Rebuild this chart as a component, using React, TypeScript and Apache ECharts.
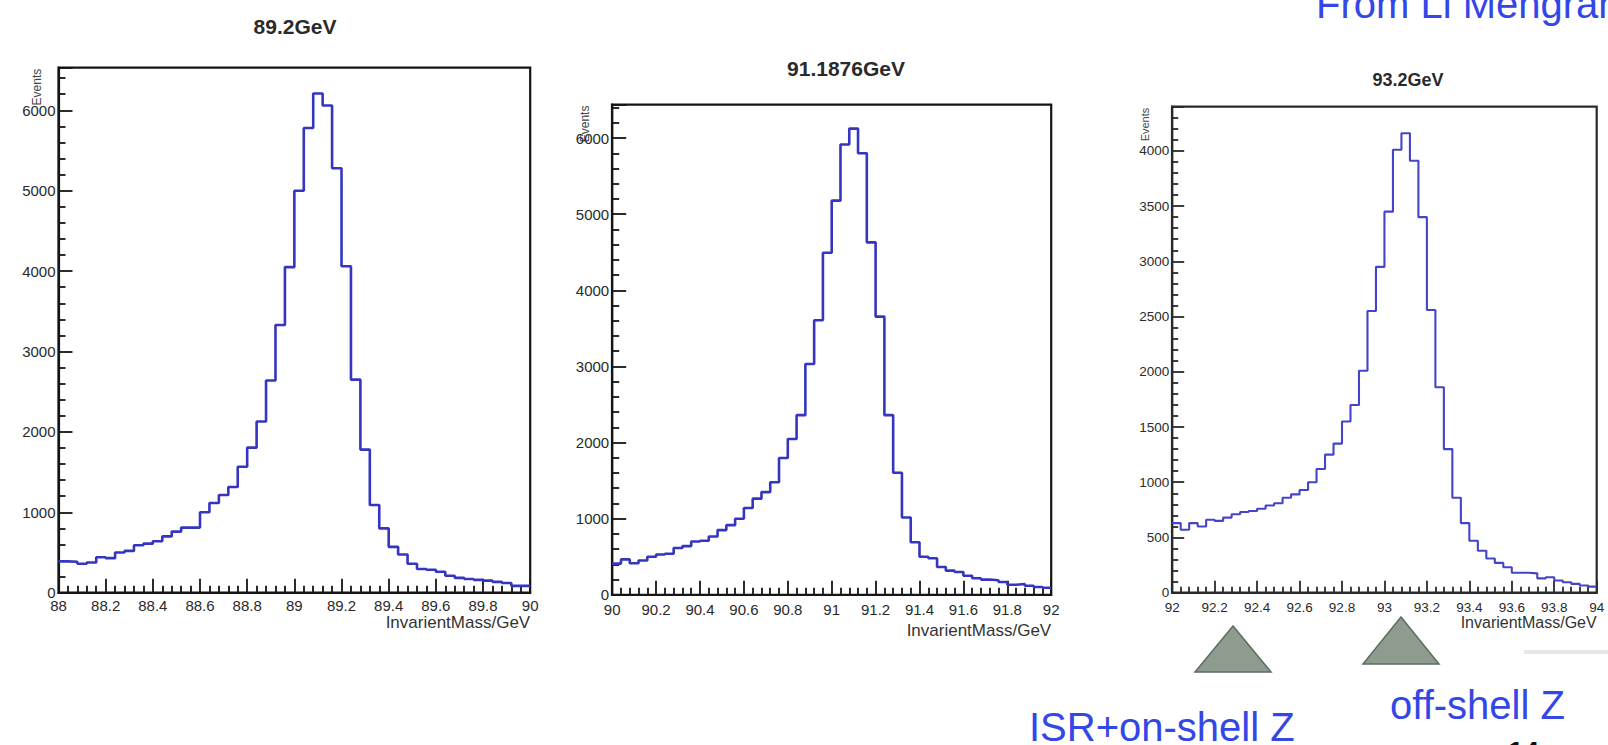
import React, { useEffect, useRef } from 'react';
import * as echarts from 'echarts';

// ---------------- data ----------------
const BIN_WIDTH = 0.04;
const starts = [88, 90, 92];
const titles = ['89.2GeV', '91.1876GeV', '93.2GeV'];
const xTitle = 'InvarientMass/GeV';
const yTitle = 'Events';
const yMax = [6530, 6440, 4400];
const yInterval = [1000, 1000, 500];

const counts892 = [
  390, 385, 360, 375, 440, 430, 500, 520, 590, 610,
  640, 700, 760, 810, 810, 1000, 1115, 1215, 1315, 1567,
  1804, 2130, 2640, 3330, 4050, 5000, 5780, 6210, 6060, 5280,
  4060, 2650, 1780, 1090, 800, 570, 475, 360, 295, 285,
  260, 210, 185, 170, 160, 150, 135, 120, 85, 85,
];
const counts911876 = [
  410, 465, 415, 450, 500, 530, 540, 615, 640, 700,
  710, 765, 850, 915, 1000, 1140, 1263, 1349, 1478, 1798,
  2047, 2360, 3033, 3606, 4494, 5178, 5915, 6125, 5800, 4630,
  3655, 2360, 1603, 1015, 690, 500, 480, 365, 317, 300,
  250, 217, 200, 192, 168, 133, 142, 118, 103, 93,
];
const counts932 = [
  630, 570, 630, 600, 660, 650, 680, 710, 730, 740,
  760, 790, 810, 860, 890, 930, 1000, 1120, 1250, 1350,
  1550, 1700, 2010, 2550, 2950, 3450, 4010, 4160, 3910, 3400,
  2560, 1860, 1300, 860, 630, 470, 380, 310, 270, 230,
  180, 180, 175, 130, 140, 110, 95, 80, 65, 55,
];
const histograms = [counts892, counts911876, counts932];

const annotations = ['ISR+on-shell Z', 'off-shell Z'];
const credit = 'From Li Mengran';
const pageNumber = '14';

// ---------------- layout / style ----------------
const FONT = 'Liberation Sans, Arial, Helvetica, sans-serif';
const panels = [
  { left: 58.5, top: 67.7, width: 471.7, height: 525, frame: '#151515', line: '#3535c0', lw: 2.6,
    label: 15, xMargin: 5, major: 14, minor: 7, titleSize: 21, titleX: 290, titleY: 11,
    evX: 37, evSize: 12, nameTop: 21, nameSize: 17 },
  { left: 612.2, top: 104.6, width: 439, height: 490.2, frame: '#151515', line: '#3535c0', lw: 2.6,
    label: 15, xMargin: 7, major: 14, minor: 7, titleSize: 21, titleX: 841, titleY: 53,
    evX: 585, evSize: 12, nameTop: 27, nameSize: 17 },
  { left: 1172.2, top: 106.7, width: 424.5, height: 486, frame: '#2a2a2a', line: '#4444c8', lw: 2.1,
    label: 13.5, xMargin: 8, major: 12, minor: 6, titleSize: 18, titleX: 1403, titleY: 66,
    evX: 1145, evSize: 11, nameTop: 22, nameSize: 16 },
];

function histPoints(start: number, counts: number[]) {
  const pts: number[][] = counts.map((c, i) => [+(start + i * BIN_WIDTH).toFixed(2), c]);
  pts.push([+(start + counts.length * BIN_WIDTH).toFixed(2), counts[counts.length - 1]]);
  return pts;
}

export default function App() {
  const ref = useRef<HTMLDivElement>(null);
  useEffect(() => {
    if (!ref.current) return;
    const chart = echarts.init(ref.current, null, { renderer: 'svg' });

    const option: any = {
      animation: false,
      backgroundColor: '#ffffff',
      title: panels.map((p, i) => ({
        text: titles[i],
        left: p.titleX,
        top: p.titleY,
        textAlign: 'center',
        textStyle: { fontFamily: FONT, fontSize: p.titleSize, fontWeight: 'bold', color: '#2a2a2a' },
      })),
      grid: panels.map((p) => ({
        left: p.left, top: p.top, width: p.width, height: p.height,
        show: true, borderColor: p.frame, borderWidth: 2.2, backgroundColor: 'transparent',
      })),
      xAxis: panels.map((p, i) => ({
        type: 'value', gridIndex: i, min: starts[i], max: starts[i] + 2, interval: 0.2,
        axisLine: { show: true, onZero: false, lineStyle: { color: p.frame, width: 2.2 } },
        axisTick: { show: true, inside: true, length: p.major, lineStyle: { color: p.frame, width: 1.8 } },
        minorTick: { show: true, splitNumber: 5, length: p.minor, lineStyle: { color: p.frame, width: 1.8 } },
        splitLine: { show: false },
        axisLabel: {
          color: '#2a2a2a', fontSize: p.label, fontFamily: FONT, margin: p.xMargin,
          formatter: (v: number) => String(Math.round(v * 10) / 10),
        },
        name: xTitle, nameLocation: 'end', nameGap: 0,
        nameTextStyle: {
          fontFamily: FONT, fontSize: p.nameSize, color: '#333', align: 'right', verticalAlign: 'top',
          padding: [p.nameTop, 0, 0, 0],
        },
      })),
      yAxis: panels.map((p, i) => ({
        type: 'value', gridIndex: i, min: 0, max: yMax[i], interval: yInterval[i],
        axisLine: { show: true, onZero: false, lineStyle: { color: p.frame, width: 2.2 } },
        axisTick: { show: true, inside: true, length: p.major, lineStyle: { color: p.frame, width: 1.8 } },
        minorTick: { show: true, splitNumber: 5, length: p.minor, lineStyle: { color: p.frame, width: 1.8 } },
        splitLine: { show: false },
        axisLabel: {
          color: '#2a2a2a', fontSize: p.label, fontFamily: FONT, margin: 3, showMaxLabel: false,
          formatter: (v: number) => String(v),
        },
      })),
      series: panels.map((p, i) => ({
        type: 'line', xAxisIndex: i, yAxisIndex: i, step: 'end', showSymbol: false, symbol: 'none',
        lineStyle: { color: p.line, width: p.lw }, data: histPoints(starts[i], histograms[i]),
      })),
      graphic: [
        ...panels.map((p) => ({
          type: 'text', x: p.evX, y: p.top + 1, rotation: Math.PI / 2,
          style: { text: yTitle, fontFamily: FONT, fontSize: p.evSize, fill: '#444', align: 'right', verticalAlign: 'middle' },
        })),
        { type: 'polygon', shape: { points: [[1233, 626], [1195, 672], [1271, 672]] },
          style: { fill: '#8d9c8f', stroke: '#5e6d61', lineWidth: 1.5 } },
        { type: 'polygon', shape: { points: [[1401, 617], [1363, 664], [1439, 664]] },
          style: { fill: '#8d9c8f', stroke: '#5e6d61', lineWidth: 1.5 } },
        { type: 'rect', shape: { x: 1524, y: 650, width: 84, height: 4 }, style: { fill: '#e6e6e6' } },
        { type: 'text', x: 1029, y: 727,
          style: { text: annotations[0], fontFamily: FONT, fontSize: 40, fill: '#3346e6', align: 'left', verticalAlign: 'middle' } },
        { type: 'text', x: 1390, y: 705,
          style: { text: annotations[1], fontFamily: FONT, fontSize: 40, fill: '#3346e6', align: 'left', verticalAlign: 'middle' } },
        { type: 'text', x: 1316, y: 4,
          style: { text: credit, fontFamily: FONT, fontSize: 40, fill: '#3346e6', align: 'left', verticalAlign: 'middle' } },
        { type: 'text', x: 1508, y: 751,
          style: { text: pageNumber, fontFamily: FONT, fontSize: 28, fontWeight: 'bold', fill: '#111', align: 'left', verticalAlign: 'middle' } },
      ],
    };
    chart.setOption(option);
    return () => chart.dispose();
  }, []);

  return (
    <div
      ref={ref}
      style={{ position: 'fixed', left: 0, top: 0, width: 1608, height: 745, background: '#fff' }}
    />
  );
}
